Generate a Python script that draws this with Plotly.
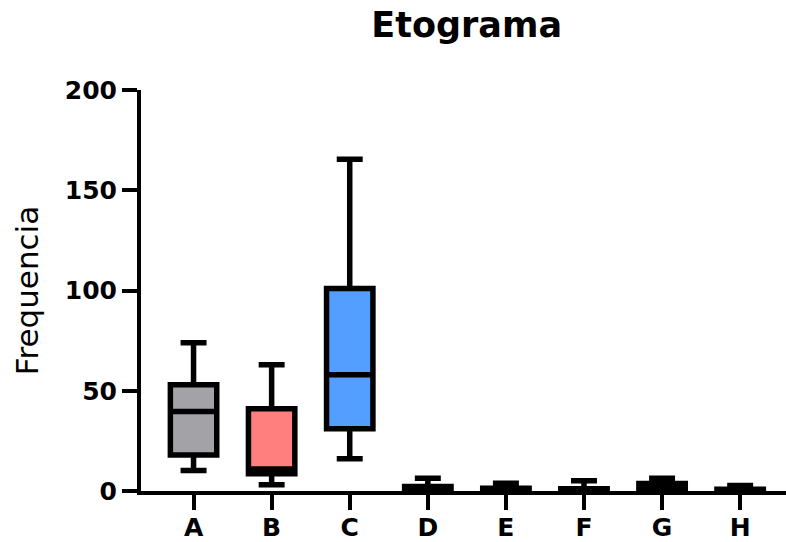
import plotly.graph_objects as go

categories = ["A", "B", "C", "D", "E", "F", "G", "H"]
upper = [74, 63, 165.5, 6.3, 3.9, 5.1, 6.3, 2.8]
q3 = [53, 41, 101, 2.2, 1.4, 1.1, 3.8, 0.9]
median = [39.7, 11, 58, 1.0, 0.8, 0.6, 1.5, 0.5]
q1 = [18, 8.6, 31, 0.4, 0.3, 0.3, 0.5, 0.2]
lower = [10.2, 3.1, 16.1, 0, 0, 0, 0, 0]
fills = ["#A3A2A7", "#FF7F7F", "#529FFF", "#FFFFFF", "#FFFFFF", "#FFFFFF", "#FFFFFF", "#FFFFFF"]

y_ticks = [0, 50, 100, 150, 200]

fig = go.Figure()
for i, c in enumerate(categories):
    fig.add_trace(go.Box(
        x=[c], q1=[q1[i]], median=[median[i]], q3=[q3[i]],
        lowerfence=[lower[i]], upperfence=[upper[i]],
        fillcolor=fills[i],
        line=dict(color="black", width=5.5),
        width=0.594, whiskerwidth=0.56,
        boxpoints=False, showlegend=False, name=c,
    ))

fig.update_layout(
    width=786, height=542,
    margin=dict(l=141, r=0, t=90, b=51, autoexpand=False),
    plot_bgcolor="white", paper_bgcolor="white",
    boxmode="overlay",
    title=dict(text="Etograma", x=0.505, xref="paper", y=0.955, yref="container",
               xanchor="center", yanchor="middle",
               font=dict(family="DejaVu Sans", size=35, color="black", weight="bold")),
    xaxis=dict(type="category", categoryorder="array", categoryarray=categories,
               range=[-0.673, 7.587], showline=True, linewidth=4, linecolor="black",
               ticks="outside", ticklen=15, tickwidth=4, tickcolor="black",
               showgrid=False, zeroline=False, automargin=False, ticklabelstandoff=-4,
               tickfont=dict(family="DejaVu Sans", size=25, color="black", weight="bold")),
    yaxis=dict(range=[0, 200], tickvals=y_ticks, showline=True, linewidth=4, linecolor="black",
               ticks="outside", ticklen=15, tickwidth=4, tickcolor="black",
               showgrid=False, zeroline=False, automargin=False,
               tickfont=dict(family="DejaVu Sans", size=25, color="black", weight="bold"),
               title=dict(text="Frequencia", standoff=18,
                          font=dict(family="DejaVu Sans", size=31, color="black"))),
)

fig.write_html("out.html")
